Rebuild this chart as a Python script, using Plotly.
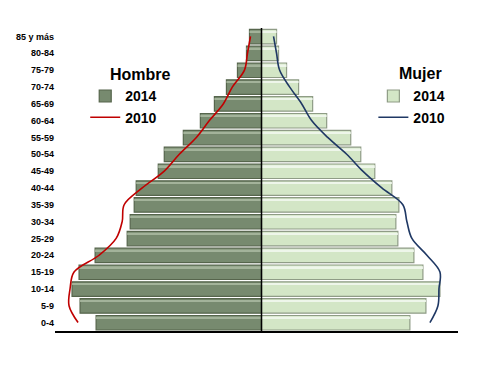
import plotly.graph_objects as go

ages = ["0-4", "5-9", "10-14", "15-19", "20-24", "25-29", "30-34", "35-39", "40-44",
        "45-49", "50-54", "55-59", "60-64", "65-69", "70-74", "75-79", "80-84", "85 y más"]

hombre_2014 = [165, 181, 189, 182, 166, 134, 131, 127, 125, 103, 97, 78, 61, 47, 35, 24, 15, 12]
mujer_2014 = [148, 164, 178, 161, 152, 136, 134, 137, 130, 113, 99, 89, 65, 51, 37, 25, 17, 15]
hombre_2010 = [183, 192, 191, 187, 162, 145, 139, 137, 119, 97, 82, 65, 52, 38, 29, 17, 14, 11]
mujer_2010 = [168, 176, 177, 178, 165, 150, 145, 141, 120, 101, 85, 66, 50, 40, 28, 18, 15, 12]

ticktext = ["<b>%s</b>" % a for a in ages]
neg_h14 = [-v for v in hombre_2014]

fig = go.Figure()
fig.add_trace(go.Bar(
    y=ages, x=neg_h14, orientation="h", name="<b>2014</b>",
    width=0.86, offset=-0.44,
    marker=dict(color="#778a6f", line=dict(color="#56654c", width=1.2)),
    legend="legend"))
fig.add_trace(go.Bar(
    y=ages, x=neg_h14, orientation="h", showlegend=False, hoverinfo="skip",
    width=0.1, offset=0.24,
    marker=dict(color="#a3b39a", line=dict(width=0))))
fig.add_trace(go.Scatter(
    y=ages, x=[-v for v in hombre_2010], mode="lines", name="<b>2010</b>",
    line=dict(color="#c00000", width=1.6, shape="spline"), legend="legend"))

fig.add_trace(go.Bar(
    y=ages, x=mujer_2014, orientation="h", name="<b>2014</b>",
    width=0.86, offset=-0.44,
    marker=dict(color="#d3e6c6", line=dict(color="#8f9c86", width=1.2)),
    legend="legend2"))
fig.add_trace(go.Bar(
    y=ages, x=mujer_2014, orientation="h", showlegend=False, hoverinfo="skip",
    width=0.1, offset=0.24,
    marker=dict(color="#eef6ea", line=dict(width=0))))
fig.add_trace(go.Scatter(
    y=ages, x=mujer_2010, mode="lines", name="<b>2010</b>",
    line=dict(color="#1f3864", width=1.6, shape="spline"), legend="legend2"))

fig.add_shape(type="line", xref="x", yref="paper", x0=0, x1=0, y0=0, y1=1,
              line=dict(color="black", width=1.5))

title_font = dict(size=16, family="Liberation Sans, Arial", color="black")
fig.add_annotation(text="<b>Hombre</b>", xref="paper", yref="paper", x=0.211, y=0.848,
                   showarrow=False, font=title_font, xanchor="center", yanchor="middle")
fig.add_annotation(text="<b>Mujer</b>", xref="paper", yref="paper", x=0.908, y=0.851,
                   showarrow=False, font=title_font, xanchor="center", yanchor="middle")

fig.update_layout(
    width=487, height=375,
    margin=dict(l=55, r=29, t=28, b=44),
    paper_bgcolor="white", plot_bgcolor="white",
    barmode="overlay",
    font=dict(family="Liberation Sans, Arial, sans-serif", color="black"),
    xaxis=dict(range=[-206, 196], showgrid=False, zeroline=False, showticklabels=False,
               ticks="", showline=True, linecolor="black", linewidth=1.5),
    yaxis=dict(type="category", categoryorder="array", categoryarray=ages,
               tickmode="array", tickvals=ages, ticktext=ticktext,
               tickfont=dict(size=9, family="Liberation Sans Narrow, Arial Narrow, Liberation Sans, Arial"),
               showgrid=False, zeroline=False, showline=False, ticks="",
               range=[-0.5, 17.5]),
    legend=dict(x=0.075, y=0.827, xanchor="left", yanchor="top",
                font=dict(size=14, family="Liberation Sans, Arial"),
                bgcolor="rgba(0,0,0,0)", tracegroupgap=0, itemwidth=30),
    legend2=dict(x=0.79, y=0.827, xanchor="left", yanchor="top",
                 font=dict(size=14, family="Liberation Sans, Arial"),
                 bgcolor="rgba(0,0,0,0)", tracegroupgap=0, itemwidth=30),
    showlegend=True,
)

fig.write_html("out.html", config={"displayModeBar": False},
               post_script="document.body.style.margin='0';")
